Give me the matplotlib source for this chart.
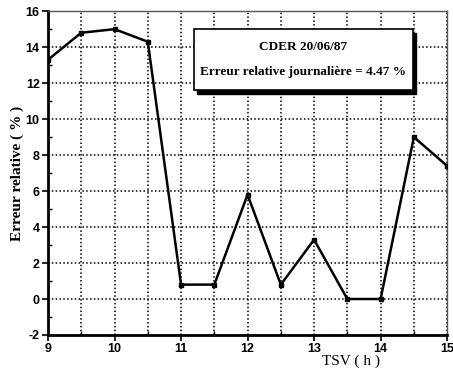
import matplotlib
matplotlib.use("Agg")
import matplotlib.pyplot as plt
from matplotlib.patches import Rectangle

# hourly relative error, CDER station, 20/06/87
tsv = [9, 9.5, 10, 10.5, 11, 11.5, 12, 12.5, 13, 13.5, 14, 14.5, 15]
err = [13.3, 14.8, 15.0, 14.3, 0.8, 0.8, 5.8, 0.8, 3.3, 0.0, 0.0, 9.0, 7.4]
xticks = [9, 10, 11, 12, 13, 14, 15]
yticks = [-2, 0, 2, 4, 6, 8, 10, 12, 14, 16]

serif = "Liberation Serif"
sans = "Liberation Sans"

fig = plt.figure(figsize=(4.53, 3.72), dpi=100)
ax = fig.add_axes([0.106, 0.0995, 0.881, 0.8705])

ax.plot(tsv, err, "-", color="black", lw=1.8, marker="s", ms=3.5, mfc="black",
        clip_on=True, zorder=3)

ax.set_xlim(9, 15)
ax.set_ylim(-2, 16)
ax.set_xticks(xticks)
ax.set_xticks([x + 0.5 for x in xticks[:-1]], minor=True)
ax.set_yticks(yticks)
ax.set_yticks([y + 1 for y in yticks[:-1]], minor=True)
ax.set_xticklabels([str(x) for x in xticks], fontfamily=sans, fontweight="bold", fontsize=9)
ax.set_yticklabels([str(y) for y in yticks], fontfamily=sans, fontweight="bold", fontsize=9)
ax.tick_params(which="major", direction="out", length=4, width=1.2, pad=2)
ax.tick_params(which="minor", direction="in", length=3, width=1.0)

ax.grid(which="major", color="black", ls=(0, (1, 1.5)), lw=1.1)
ax.grid(which="minor", axis="x", color="black", ls=(0, (1, 1.5)), lw=1.1)

for side in ("left", "bottom"):
    ax.spines[side].set_linewidth(2.0)
for side in ("top", "right"):
    ax.spines[side].set_linewidth(1.0)
    ax.spines[side].set_color("#555555")

ax.set_ylabel("Erreur relative ( % )", fontfamily=serif, fontweight="bold",
              fontsize=11, labelpad=1)
ax.text(0.76, -0.082, "TSV ( h )", transform=ax.transAxes, ha="center", va="center",
        fontfamily=serif, fontsize=11)

# annotation box with a drop shadow
bx, by, bw, bh = 0.365, 0.755, 0.55, 0.19
ax.add_patch(Rectangle((bx + 0.008, by - 0.012), bw, bh, transform=ax.transAxes,
                       facecolor="black", edgecolor="black", zorder=4))
ax.add_patch(Rectangle((bx, by), bw, bh, transform=ax.transAxes,
                       facecolor="white", edgecolor="black", lw=1.2, zorder=5))
ax.text(bx + bw / 2, by + bh * 0.70, "CDER 20/06/87", transform=ax.transAxes,
        ha="center", va="center", fontfamily=serif, fontweight="bold", fontsize=9.5, zorder=6)
ax.text(bx + bw / 2, by + bh * 0.30, "Erreur relative journalière = 4.47 %",
        transform=ax.transAxes, ha="center", va="center", fontfamily=serif,
        fontweight="bold", fontsize=9.5, zorder=6)

fig.savefig("out.png", dpi=100)
